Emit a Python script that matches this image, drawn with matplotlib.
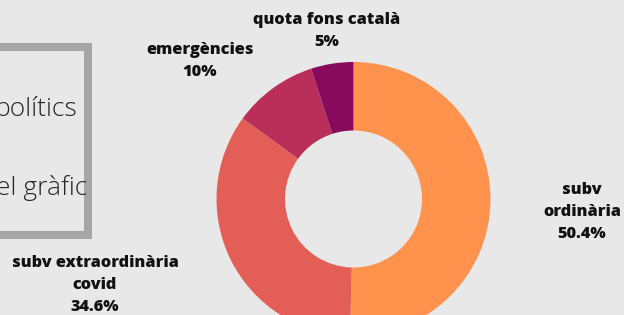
import matplotlib.pyplot as plt
from matplotlib.patches import Rectangle

# data
labels = ['subv\nordinària', 'subv extraordinària\ncovid', 'emergències', 'quota fons català']
values = [50.4, 34.6, 10, 5]
pcts = ['50.4%', '34.6%', '10%', '5%']
colors = ['#FF924D', '#E45E58', '#BA2F5A', '#880A5C']
box_lines = ['polítics', 'el gràfic']

W, H = 624, 315
bg = '#E8E8E8'

fig = plt.figure(figsize=(W/100, H/100), dpi=100, facecolor=bg)

def fx(x): return x/W
def fy(y): return 1 - y/H

# donut, center (353,199), radius 137 px
cx, cy, r = 353.5, 199, 137
ax = fig.add_axes([fx(cx-r), fy(cy+r), 2*r/W, 2*r/H])
ax.set_facecolor(bg)
ax.pie(values, colors=colors, startangle=90, counterclock=False, radius=1,
       wedgeprops=dict(width=0.5, linewidth=0))
ax.set_xlim(-1, 1)
ax.set_ylim(-1, 1)
ax.set_aspect('equal')
ax.axis('off')

# labels (positions in px)
lab_pos = [(582, 212), (95, 285), (200, 61), (327, 31)]
for lab, p, (x, y) in zip(labels, pcts, lab_pos):
    fig.text(fx(x), fy(y), lab + '\n' + p, ha='center', va='center',
             fontsize=11.7, fontweight='heavy', family=['Open Sans', 'DejaVu Sans'],
             color='#111111', linespacing=1.5)

# framed box on the left
fig.patches.append(Rectangle((fx(-30), fy(234.5)), fx(117.5), (234.5-47)/H,
                             transform=fig.transFigure, fill=False,
                             edgecolor='#A6A6A6', linewidth=5.8, zorder=1))
fig.text(fx(77), fy(109), box_lines[0], ha='right', va='center', fontsize=19,
         fontweight='light', family=['Open Sans', 'DejaVu Sans'], color='#262626', zorder=5)
fig.text(fx(87), fy(188), box_lines[1], ha='right', va='center', fontsize=19,
         fontweight='light', family=['Open Sans', 'DejaVu Sans'], color='#262626', zorder=5)

fig.savefig('out.png', dpi=100, facecolor=bg)
